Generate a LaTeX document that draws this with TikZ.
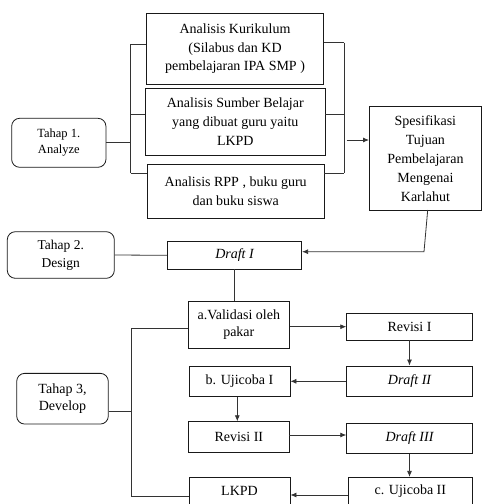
\documentclass[tikz,border=0pt]{standalone}
\usepackage{fontspec}
\setmainfont{Liberation Serif}
\usetikzlibrary{arrows.meta}
\begin{document}
\begin{tikzpicture}[x=1pt,y=-1pt,
  box/.style={draw=black!90,line width=0.8pt,inner sep=0pt,align=center,font=\fontsize{14}{18.7}\selectfont},
  tahap/.style={box,rounded corners=8pt},
  ln/.style={draw=black!80,line width=0.8pt},
  arr/.style={ln,-{Latex[length=6pt,width=5pt]}}]
\useasboundingbox (0,0) rectangle (483,504);
% Tahap 1
\node[box,minimum width=176.6pt,minimum height=70.7pt] (kur) at (235,48.7) {Analisis Kurikulum\\(Silabus dan KD\\pembelajaran IPA SMP )};
\node[box,minimum width=179.3pt,minimum height=67pt] (sum) at (235.3,121.8) {Analisis Sumber Belajar\\yang dibuat guru yaitu\\LKPD};
\node[box,minimum width=176.7pt,minimum height=54pt] (rpp) at (235.7,191.3) {Analisis RPP , buku guru\\dan buku siswa};
\node[tahap,minimum width=94.3pt,minimum height=49pt,font=\fontsize{12.5}{16}\selectfont] (t1) at (58.8,142.8) {Tahap 1.\\Analyze};
\node[box,minimum width=112pt,minimum height=103.3pt,font=\fontsize{14}{19}\selectfont] (spes) at (425.4,158.3) {Spesifikasi\\Tujuan\\Pembelajaran\\Mengenai\\Karlahut};
% Tahap 2
\node[tahap,minimum width=107pt,minimum height=46.6pt,font=\fontsize{13.5}{18.3}\selectfont] (t2) at (60.8,255) {Tahap 2.\\Design};
\node[box,minimum width=134.4pt,minimum height=27.3pt] (d1) at (234.5,255.3) {\itshape Draft I};
% Tahap 3
\node[tahap,minimum width=91.6pt,minimum height=50.7pt,font=\fontsize{14}{17.6}\selectfont] (t3) at (62.5,398.7) {Tahap 3,\\Develop};
\node[box,minimum width=101pt,minimum height=47.3pt,font=\fontsize{14}{17.6}\selectfont] (val) at (238.8,324.7) {a.Validasi oleh\\pakar};
\node[box,minimum width=125.6pt,minimum height=26.7pt] (rev1) at (409.5,326.7) {Revisi I};
\node[box,minimum width=125.6pt,minimum height=30.7pt] (d2) at (409.5,381.3) {\itshape Draft II};
\node[box,minimum width=101pt,minimum height=30.7pt] (uj1) at (239.5,381.3) {b. Ujicoba I};
\node[box,minimum width=101pt,minimum height=31pt] (rev2) at (238.8,437.2) {Revisi II};
\node[box,minimum width=125.6pt,minimum height=30pt] (d3) at (409.5,438.3) {\itshape Draft III};
\node[box,minimum width=124pt,minimum height=28pt] (uj2) at (410.3,491.3) {c. Ujicoba II};
\node[box,minimum width=101pt,minimum height=28pt] (lkpd) at (239.5,491.3) {LKPD};
% Analyze brackets
\coordinate (b1t) at (130.7,44.3);
\coordinate (b1s) at (130.7,114.7);
\coordinate (b1b) at (130.7,173.3);
\draw[ln] (b1t) -- (b1b);
\draw[ln] (b1t) -- (b1t -| kur.west);
\draw[ln] (b1s) -- (b1s -| sum.west);
\draw[ln] (b1b) -- (b1b -| rpp.west);
\draw[ln] (t1.east) -- (t1.east -| b1t);
\coordinate (b2t) at (344.3,42.7);
\coordinate (b2s) at (344.3,114.7);
\coordinate (b2b) at (344.3,173.3);
\coordinate (b2a) at (346.7,140);
\draw[ln] (b2t) -- (b2b);
\draw[ln] (b2t -| kur.east) -- (b2t);
\draw[ln] (b2s -| sum.east) -- (b2s);
\draw[ln] (b2b -| rpp.east) -- (b2b);
\draw[arr] (b2a) -- (b2a -| spes.west);
% to Draft I
\coordinate (sp) at (427.7,210);
\coordinate (c1) at (424,251.7);
\draw[arr] (sp) -- (c1) -- (c1 -| d1.east);
\draw[ln] (t2.east) -- (d1.west);
\draw[ln] (d1.south) -- (d1.south |- val.north);
% Develop
\draw[arr] (val.east |- rev1.west) -- (rev1.west);
\draw[arr] (rev1.south) -- (d2.north);
\draw[arr] (d2.west) -- (uj1.east);
\coordinate (u1s) at (237.3,396.7);
\draw[arr] (u1s) -- (u1s |- rev2.north);
\coordinate (r2e) at (289.3,435);
\draw[arr] (r2e) -- (r2e -| d3.west);
\draw[arr] (d3.south) -- (d3.south |- uj2.north);
\coordinate (u2w) at (348.3,495);
\draw[arr] (u2w) -- (u2w -| lkpd.east);
\coordinate (b3t) at (131.7,328.3);
\coordinate (b3m) at (131.7,411.7);
\coordinate (b3b) at (131.7,496);
\draw[ln] (b3t -| val.west) -- (b3t) -- (b3b) -- (b3b -| lkpd.west);
\draw[ln] (b3m -| t3.east) -- (b3m);
\end{tikzpicture}
\end{document}
